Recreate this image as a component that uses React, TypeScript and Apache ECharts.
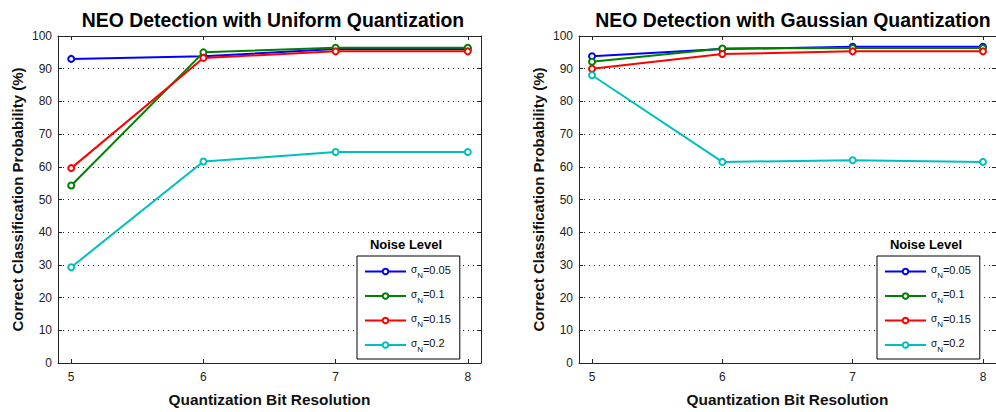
import React, { useEffect, useRef } from "react";
import * as echarts from "echarts";

const bits = [5, 6, 7, 8];
const xTicks = [5, 6, 7, 8];
const noiseLevels = ["0.05", "0.1", "0.15", "0.2"];
const colors = ["#0000ff", "#008000", "#ff0000", "#00bfbf"];

const uniform005 = [93.0, 93.8, 96.0, 96.0];
const uniform01 = [54.3, 95.0, 96.4, 96.4];
const uniform015 = [59.6, 93.3, 95.3, 95.3];
const uniform02 = [29.3, 61.6, 64.5, 64.5];

const gauss005 = [93.8, 96.0, 96.7, 96.7];
const gauss01 = [92.1, 96.2, 96.3, 96.3];
const gauss015 = [90.0, 94.5, 95.3, 95.3];
const gauss02 = [88.0, 61.5, 62.0, 61.5];

const uniformSeries = [uniform005, uniform01, uniform015, uniform02];
const gaussSeries = [gauss005, gauss01, gauss015, gauss02];

const titles = [
  "NEO Detection with Uniform Quantization",
  "NEO Detection with Gaussian Quantization",
];
const xName = "Quantization Bit Resolution";
const yName = "Correct Classification Probability (%)";
const legendTitle = "Noise Level";

const FONT = "'Liberation Sans', Arial, Helvetica, sans-serif";
const AX = "#262626";

export default function App() {
  const ref = useRef<HTMLDivElement>(null);
  useEffect(() => {
    if (!ref.current) return;
    const chart = echarts.init(ref.current, null, { renderer: "svg" });
    const gridLefts = [58, 579];
    const gridTop = 36;
    const gridW = 423;
    const gridH = 327;
    const legendLefts = [357, 877];
    const titleCenters = [268, 788];

    const xAxes: any[] = [];
    const yAxes: any[] = [];
    gridLefts.forEach((_, gi) => {
      xAxes.push({
        type: "value",
        gridIndex: gi,
        min: 4.9,
        max: 8.1,
        position: "bottom",
        name: xName,
        nameLocation: "middle",
        nameGap: 29,
        nameTextStyle: { fontFamily: FONT, fontWeight: "bold", fontSize: 15.4, color: "#111" },
        axisLine: { show: true, onZero: false, lineStyle: { color: AX, width: 1 } },
        axisTick: { show: true, inside: true, length: 4, customValues: xTicks, lineStyle: { color: AX } },
        axisLabel: { show: true, customValues: xTicks, fontFamily: FONT, fontSize: 12, color: "#222", margin: 8 },
        splitLine: { show: false },
      });
      xAxes.push({
        type: "value",
        gridIndex: gi,
        min: 4.9,
        max: 8.1,
        position: "top",
        axisLine: { show: true, onZero: false, lineStyle: { color: AX, width: 1 } },
        axisTick: { show: true, inside: true, length: 4, customValues: xTicks, lineStyle: { color: AX } },
        axisLabel: { show: false },
        splitLine: { show: false },
      });
      yAxes.push({
        type: "value",
        gridIndex: gi,
        min: 0,
        max: 100,
        interval: 10,
        position: "left",
        name: yName,
        nameLocation: "middle",
        nameGap: 33,
        nameTextStyle: { fontFamily: FONT, fontWeight: "bold", fontSize: 15, color: "#111" },
        axisLine: { show: true, onZero: false, lineStyle: { color: AX, width: 1 } },
        axisTick: { show: true, inside: true, length: 4, lineStyle: { color: AX } },
        axisLabel: { fontFamily: FONT, fontSize: 12, color: "#222", margin: 6 },
        splitLine: { show: true, lineStyle: { color: "#222", type: [1, 4], width: 1 } },
      });
      yAxes.push({
        type: "value",
        gridIndex: gi,
        min: 0,
        max: 100,
        interval: 10,
        position: "right",
        axisLine: { show: true, onZero: false, lineStyle: { color: AX, width: 1 } },
        axisTick: { show: true, inside: true, length: 4, lineStyle: { color: AX } },
        axisLabel: { show: false },
        splitLine: { show: false },
      });
    });

    const series: any[] = [];
    [uniformSeries, gaussSeries].forEach((set, gi) => {
      set.forEach((vals, si) => {
        series.push({
          type: "line",
          name: noiseLevels[si],
          xAxisIndex: gi * 2,
          yAxisIndex: gi * 2,
          data: bits.map((b, i) => [b, vals[i]]),
          symbol: "emptyCircle",
          symbolSize: 6,
          showSymbol: true,
          lineStyle: { color: colors[si], width: 2 },
          itemStyle: { color: colors[si], borderColor: colors[si], borderWidth: 1.5 },
          z: 2 + si,
        });
      });
    });

    const legends = legendLefts.map((l) => ({
      orient: "vertical",
      left: l,
      top: 256,
      width: 99,
      data: noiseLevels,
      backgroundColor: "#fff",
      borderColor: "#000",
      borderWidth: 1,
      borderRadius: 0,
      padding: [8, 9, 6, 7],
      itemGap: 9,
      itemWidth: 41,
      itemHeight: 7,
      selectedMode: false,
      formatter: (name: string) => `{s|σ}{n|N}{v|=${name}}`,
      textStyle: {
        fontFamily: FONT,
        color: "#111",
        rich: {
          s: { fontFamily: FONT, fontSize: 10, color: "#111", padding: [0, 0, 4, 0] },
          n: { fontFamily: FONT, fontSize: 8, color: "#111", padding: [8, 0, 0, 0] },
          v: { fontFamily: FONT, fontSize: 11, color: "#111", padding: [0, 0, 4, 0] },
        },
      },
    }));

    const titleComps: any[] = [];
    titles.forEach((t, gi) => {
      titleComps.push({
        text: t,
        left: titleCenters[gi],
        textAlign: "center",
        top: 5,
        textStyle: { fontFamily: FONT, fontWeight: "bold", fontSize: 19.4, color: "#000" },
      });
      titleComps.push({
        text: legendTitle,
        left: legendLefts[gi] + 49,
        textAlign: "center",
        top: 238,
        padding: 0,
        textStyle: { fontFamily: FONT, fontWeight: "bold", fontSize: 13, color: "#000" },
      });
    });

    chart.setOption({
      animation: false,
      backgroundColor: "#fff",
      title: titleComps,
      grid: gridLefts.map((l) => ({ left: l, top: gridTop, width: gridW, height: gridH, containLabel: false })),
      xAxis: xAxes,
      yAxis: yAxes,
      legend: legends,
      series,
    });
    return () => chart.dispose();
  }, []);
  return (
    <div
      ref={ref}
      style={{ position: "absolute", left: 0, top: 0, width: 996, height: 412, background: "#fff" }}
    />
  );
}
